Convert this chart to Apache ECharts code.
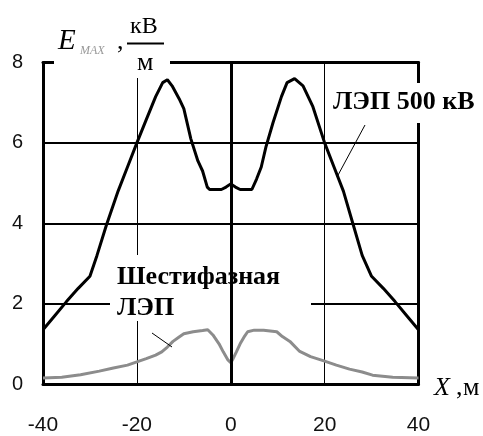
<!DOCTYPE html>
<html>
<head>
<meta charset="utf-8">
<script src="https://cdn.jsdelivr.net/npm/echarts@6/dist/echarts.min.js"></script>
<style>
html,body{margin:0;padding:0;background:#fff;}
#c{width:483px;height:436px;}
</style>
</head>
<body>
<div id="c"></div>
<script>
// X positions (m) and E_max (kV/m) for the 500 kV line
var xBlack = [-40,-37.5,-35,-32.5,-30,-28.5,-26.5,-24,-22,-20,-18,-16,-14.5,-13.5,-12.5,-11,-10,-8.5,-7,-6,-5,-4.5,-2,-1,0,1,2,4.5,5.5,6.5,7.5,9,10.8,12,13.6,15.4,17.5,20,22,24,26,28,30,32.5,35,37.5,40];
var yBlack = [1.35,1.7,2.05,2.38,2.68,3.2,3.95,4.8,5.4,6.0,6.58,7.15,7.5,7.57,7.42,7.1,6.85,6.1,5.55,5.3,4.9,4.84,4.84,4.9,4.98,4.9,4.84,4.84,5.1,5.4,5.9,6.5,7.15,7.5,7.6,7.42,6.9,6.0,5.4,4.8,4.0,3.2,2.68,2.38,2.05,1.7,1.35];
// Six-phase line
var xGray = [-40,-36,-32,-28,-25,-22,-20,-18,-16,-14.7,-13.5,-12.3,-11,-10,-8,-6,-4.9,-3.8,-2.5,-1.6,-0.6,0,0.5,1.2,2,3,3.6,5,7,9.8,11,12.6,14.7,17,20,22.5,25.3,28,30.2,34.5,40];
var yGray = [0.15,0.17,0.23,0.32,0.4,0.47,0.55,0.63,0.72,0.8,0.92,1.06,1.17,1.25,1.3,1.33,1.35,1.22,1.0,0.8,0.6,0.53,0.63,0.8,1.0,1.2,1.3,1.34,1.34,1.3,1.18,1.06,0.81,0.68,0.57,0.47,0.37,0.3,0.22,0.17,0.15];
var xTicks = {min:-40, max:40, interval:20};
var yTicks = {min:0, max:8, interval:2};

function pairs(xs, ys){ var r=[]; for(var i=0;i<xs.length;i++) r.push([xs[i], ys[i]]); return r; }

var serif = "'Liberation Serif','Times New Roman',serif";
var sans = "'Liberation Sans',Arial,sans-serif";

var chart = echarts.init(document.getElementById('c'), null, {renderer:'canvas'});
var frameLine = {show:true, onZero:false, lineStyle:{color:'#000', width:3}};
chart.setOption({
  animation:false,
  backgroundColor:'#fff',
  grid:{left:43, right:64.5, top:62.5, bottom:48.5, containLabel:false},
  xAxis:[
    {type:'value', position:'bottom', min:xTicks.min, max:xTicks.max, interval:xTicks.interval,
     axisLine:frameLine, axisTick:{show:false},
     axisLabel:{fontSize:21, fontFamily:sans, color:'#111', margin:31},
     splitLine:{show:true, lineStyle:{color:'#000', width:1}}},
    {type:'value', position:'top', min:xTicks.min, max:xTicks.max, interval:xTicks.interval,
     axisLine:frameLine, axisTick:{show:false}, axisLabel:{show:false}, splitLine:{show:false}}
  ],
  yAxis:[
    {type:'value', position:'left', min:yTicks.min, max:yTicks.max, interval:yTicks.interval,
     axisLine:frameLine, axisTick:{show:false},
     axisLabel:{fontSize:20, fontFamily:sans, color:'#111', margin:20, padding:[9,0,0,0]},
     splitLine:{show:true, lineStyle:{color:'#000', width:2}}},
    {type:'value', position:'right', min:yTicks.min, max:yTicks.max, interval:yTicks.interval,
     axisLine:frameLine, axisTick:{show:false}, axisLabel:{show:false}, splitLine:{show:false}}
  ],
  series:[
    {type:'line', z:0, data:[], silent:true,
     markLine:{silent:true, symbol:'none', label:{show:false},
       lineStyle:{color:'#000', width:3, type:'solid'}, data:[{xAxis:0}]}},
    {type:'line', name:'ЛЭП 500 кВ', data:pairs(xBlack,yBlack), symbol:'none', z:3,
     lineStyle:{color:'#000', width:3}},
    {type:'line', name:'Шестифазная ЛЭП', data:pairs(xGray,yGray), symbol:'none', z:3,
     lineStyle:{color:'#8c8c8c', width:3}}
  ],
  graphic:[
    {type:'rect', z:1, shape:{x:54, y:0, width:116, height:78}, style:{fill:'#fff'}},
    {type:'rect', z:1, shape:{x:329, y:83, width:154, height:40}, style:{fill:'#fff'}},
    {type:'rect', z:1, shape:{x:110, y:255, width:201, height:66}, style:{fill:'#fff'}},
    {type:'text', z:10, x:333, y:102.5, style:{text:'ЛЭП 500 кВ', font:"bold 26px "+serif, fill:'#000', verticalAlign:'middle', align:'left'}},
    {type:'text', z:10, x:117, y:277, style:{text:'Шестифазная', font:"bold 26px "+serif, fill:'#000', verticalAlign:'middle', align:'left'}},
    {type:'text', z:10, x:117, y:308.5, style:{text:'ЛЭП', font:"bold 26px "+serif, fill:'#000', verticalAlign:'middle', align:'left'}},
    {type:'line', z:10, shape:{x1:365, y1:125, x2:337, y2:177}, style:{stroke:'#000', lineWidth:1}},
    {type:'line', z:10, shape:{x1:152, y1:333, x2:172, y2:347}, style:{stroke:'#000', lineWidth:1}},
    {type:'text', z:10, x:58, y:41.5, style:{text:'E', font:"italic 29px "+serif, fill:'#000', verticalAlign:'middle', align:'left'}},
    {type:'text', z:10, x:80, y:51, style:{text:'MAX', font:"italic 12px "+serif, fill:'#999', verticalAlign:'middle', align:'left'}},
    {type:'text', z:10, x:117, y:42, style:{text:',', font:"26px "+serif, fill:'#000', verticalAlign:'middle', align:'left'}},
    {type:'text', z:10, x:130, y:27, style:{text:'кВ', font:"24px "+serif, fill:'#000', verticalAlign:'middle', align:'left'}},
    {type:'line', z:10, shape:{x1:127, y1:43.5, x2:164, y2:43.5}, style:{stroke:'#000', lineWidth:2}},
    {type:'text', z:10, x:137, y:63, style:{text:'м', font:"26px "+serif, fill:'#000', verticalAlign:'middle', align:'left'}},
    {type:'text', z:10, x:434, y:388.5, style:{text:'X', font:"italic 26px "+serif, fill:'#000', verticalAlign:'middle', align:'left'}},
    {type:'text', z:10, x:456, y:388, style:{text:',', font:"26px "+serif, fill:'#000', verticalAlign:'middle', align:'left'}},
    {type:'text', z:10, x:463, y:388, style:{text:'м', font:"26px "+serif, fill:'#000', verticalAlign:'middle', align:'left'}}
  ]
});
</script>
</body>
</html>
